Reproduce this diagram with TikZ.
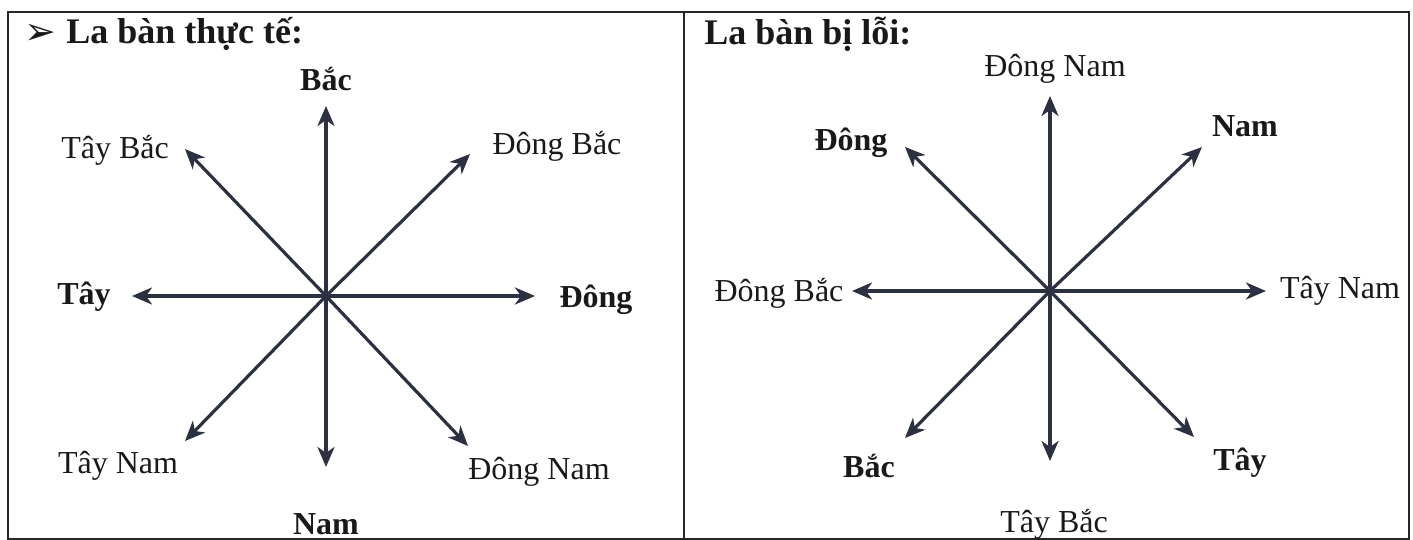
\documentclass[tikz,border=0pt]{standalone}
\usepackage{fontspec}
\setmainfont{Liberation Serif}
\newfontfamily\symfont{DejaVu Sans}
\usetikzlibrary{arrows.meta}
\definecolor{arrowc}{HTML}{2B3140}
\tikzset{
  frame/.style={line width=1pt, draw=black!85},
  dirarrow/.style={line width=1.6pt, draw=arrowc, -{Stealth[length=10pt,width=8.5pt,inset=3pt]}},
  lbl/.style={font=\fontsize{16}{18}\selectfont, inner sep=0pt, text=black!90},
  blbl/.style={font=\fontsize{16}{18}\selectfont\bfseries, inner sep=0pt, text=black!90},
  ttl/.style={font=\fontsize{18}{20}\selectfont\bfseries, inner sep=0pt, anchor=west, text=black!90}
}
\begin{document}
\begin{tikzpicture}[x=0.5pt,y=-0.5pt]
\useasboundingbox (0,0) rectangle (1413,540);
\draw[frame] (8,12) rectangle (1409,539);
\draw[frame] (684,12) -- (684,539);
% titles
\node[inner sep=0pt, text=black!90, font=\symfont\fontsize{19}{20}\selectfont] (arr) at (40,34) {➢};
\node[ttl] (t1) at (66,34) {La bàn thực tế:};
\node[ttl] (t2) at (704,34) {La bàn bị lỗi:};
% left compass
\coordinate (c1) at (326,296);
\coordinate (n1) at (326,106);
\coordinate (s1) at (326,467);
\coordinate (w1) at (132,296);
\coordinate (e1) at (535,296);
\coordinate (nw1) at (185,149);
\coordinate (ne1) at (470,154);
\coordinate (sw1) at (185,441);
\coordinate (se1) at (468,446);
\foreach \p in {n1,s1,w1,e1,nw1,ne1,sw1,se1} \draw[dirarrow] (c1) -- (\p);
\node[blbl] (lN) at (326,79) {Bắc};
\node[lbl] (lNW) at (115,150) {Tây Bắc};
\node[lbl] (lNE) at (557,146) {Đông Bắc};
\node[blbl] (lW) at (84,297) {Tây};
\node[blbl] (lE) at (596,300) {Đông};
\node[lbl] (lSW) at (118,466) {Tây Nam};
\node[lbl] (lSE) at (539,472) {Đông Nam};
\node[blbl] (lS) at (326,524) {Nam};
% right compass
\coordinate (c2) at (1050,291);
\coordinate (n2) at (1050,96);
\coordinate (s2) at (1050,461);
\coordinate (w2) at (852,291);
\coordinate (e2) at (1266,291);
\coordinate (nw2) at (905,147);
\coordinate (ne2) at (1202,147);
\coordinate (sw2) at (905,438);
\coordinate (se2) at (1194,437);
\foreach \p in {n2,s2,w2,e2,nw2,ne2,sw2,se2} \draw[dirarrow] (c2) -- (\p);
\node[lbl] (rN) at (1055,69) {Đông Nam};
\node[blbl] (rNW) at (851,143) {Đông};
\node[blbl] (rNE) at (1245,126) {Nam};
\node[lbl] (rW) at (779,293) {Đông Bắc};
\node[lbl] (rE) at (1340,291) {Tây Nam};
\node[blbl] (rSW) at (869,466) {Bắc};
\node[blbl] (rSE) at (1240,463) {Tây};
\node[lbl] (rS) at (1054,524) {Tây Bắc};
\end{tikzpicture}
\end{document}
